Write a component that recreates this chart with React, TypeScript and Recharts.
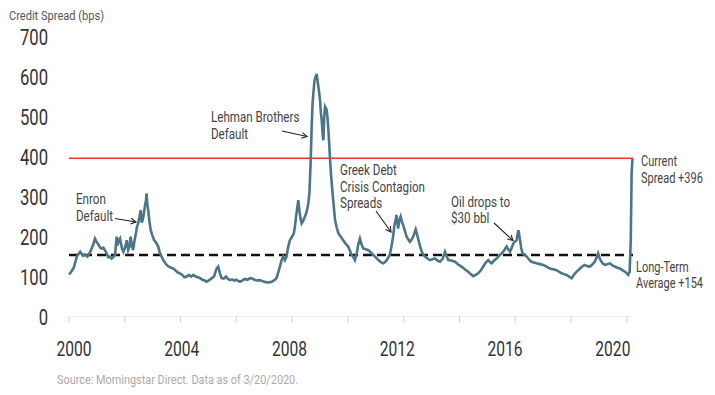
import React from 'react';
import { LineChart, Line, XAxis, YAxis, ReferenceLine } from 'recharts';

const years = [
  2000.00, 2000.08, 2000.17, 2000.28, 2000.40, 2000.50, 2000.57, 2000.66, 2000.75, 2000.87, 2000.93,
  2001.00, 2001.05, 2001.12, 2001.17, 2001.23, 2001.29, 2001.35, 2001.41, 2001.47, 2001.53, 2001.60,
  2001.65, 2001.71, 2001.74, 2001.77, 2001.83, 2001.90, 2001.95, 2002.02, 2002.07, 2002.12, 2002.17,
  2002.21, 2002.26, 2002.30, 2002.35, 2002.40, 2002.44, 2002.48, 2002.53, 2002.57, 2002.61, 2002.64,
  2002.68, 2002.72, 2002.76, 2002.78, 2002.81, 2002.84, 2002.88, 2002.93, 2002.98, 2003.05, 2003.12,
  2003.20, 2003.26, 2003.32, 2003.38, 2003.44, 2003.50, 2003.58, 2003.66, 2003.74, 2003.82, 2003.90,
  2003.98, 2004.06, 2004.14, 2004.22, 2004.30, 2004.38, 2004.46, 2004.54, 2004.62, 2004.70, 2004.78,
  2004.86, 2004.93, 2005.00, 2005.05, 2005.12, 2005.20, 2005.29, 2005.35, 2005.41, 2005.47, 2005.55,
  2005.63, 2005.70, 2005.77, 2005.85, 2005.93, 2006.00, 2006.06, 2006.13, 2006.21, 2006.30, 2006.40,
  2006.49, 2006.57, 2006.65, 2006.75, 2006.85, 2006.95, 2007.05, 2007.14, 2007.22, 2007.30, 2007.38,
  2007.44, 2007.50, 2007.56, 2007.62, 2007.68, 2007.74, 2007.80, 2007.86, 2007.92, 2008.00, 2008.06,
  2008.10, 2008.14, 2008.18, 2008.22, 2008.26, 2008.30, 2008.34, 2008.40, 2008.46, 2008.52, 2008.58,
  2008.62, 2008.66, 2008.70, 2008.73, 2008.76, 2008.80, 2008.84, 2008.88, 2008.91, 2008.94, 2008.97,
  2009.00, 2009.03, 2009.06, 2009.10, 2009.12, 2009.15, 2009.18, 2009.22, 2009.24, 2009.27, 2009.30,
  2009.33, 2009.36, 2009.40, 2009.45, 2009.50, 2009.54, 2009.60, 2009.66, 2009.74, 2009.83, 2009.92,
  2010.01, 2010.07, 2010.13, 2010.20, 2010.25, 2010.32, 2010.37, 2010.43, 2010.49, 2010.55, 2010.64,
  2010.73, 2010.82, 2010.91, 2011.00, 2011.09, 2011.18, 2011.27, 2011.33, 2011.39, 2011.45, 2011.50,
  2011.56, 2011.62, 2011.66, 2011.68, 2011.72, 2011.74, 2011.77, 2011.80, 2011.84, 2011.89, 2011.93,
  2011.98, 2012.04, 2012.10, 2012.16, 2012.22, 2012.28, 2012.34, 2012.39, 2012.43, 2012.48, 2012.53,
  2012.59, 2012.65, 2012.70, 2012.76, 2012.85, 2012.94, 2013.03, 2013.12, 2013.21, 2013.30, 2013.40,
  2013.48, 2013.54, 2013.60, 2013.70, 2013.84, 2013.95, 2014.07, 2014.19, 2014.31, 2014.40, 2014.49,
  2014.58, 2014.67, 2014.76, 2014.85, 2014.94, 2015.03, 2015.09, 2015.15, 2015.24, 2015.33, 2015.42,
  2015.51, 2015.60, 2015.69, 2015.75, 2015.81, 2015.87, 2015.93, 2016.00, 2016.05, 2016.08, 2016.11,
  2016.14, 2016.17, 2016.21, 2016.26, 2016.33, 2016.41, 2016.50, 2016.58, 2016.67, 2016.76, 2016.88,
  2017.00, 2017.12, 2017.24, 2017.36, 2017.48, 2017.57, 2017.66, 2017.75, 2017.84, 2017.93, 2018.02,
  2018.08, 2018.14, 2018.23, 2018.32, 2018.40, 2018.49, 2018.58, 2018.67, 2018.76, 2018.85, 2018.92,
  2018.97, 2019.03, 2019.09, 2019.15, 2019.21, 2019.30, 2019.39, 2019.48, 2019.57, 2019.66, 2019.75,
  2019.84, 2019.93, 2020.00, 2020.05, 2020.10, 2020.14, 2020.17, 2020.20,
];

const spreads = [
  105, 112, 122, 150, 162, 152, 155, 150, 160, 180, 195,
  185, 181, 172, 170, 172, 166, 158, 148, 150, 145, 150,
  154, 200, 178, 187, 195, 170, 162, 175, 191, 166, 175,
  200, 175, 166, 190, 208, 225, 233, 250, 266, 235, 241,
  255, 275, 290, 308, 280, 266, 240, 216, 205, 191, 185,
  175, 158, 150, 141, 135, 129, 125, 122, 120, 115, 110,
  108, 104, 98, 100, 104, 100, 104, 100, 98, 96, 92,
  90, 87, 90, 92, 96, 100, 120, 125, 108, 96, 95,
  100, 94, 91, 93, 90, 92, 89, 87, 90, 94, 92,
  96, 95, 92, 90, 91, 88, 86, 85, 86, 88, 92,
  96, 110, 125, 140, 150, 141, 150, 175, 191, 200, 208,
  225, 250, 270, 291, 265, 245, 233, 240, 250, 262, 283,
  310, 380, 475, 530, 558, 590, 600, 607, 590, 575, 560,
  541, 510, 491, 450, 441, 500, 525, 520, 516, 495, 466,
  430, 391, 350, 308, 270, 241, 222, 208, 200, 191, 182,
  175, 165, 154, 148, 141, 160, 180, 195, 180, 170, 168,
  166, 160, 154, 148, 141, 136, 133, 136, 141, 148, 154,
  175, 200, 225, 233, 245, 254, 235, 220, 240, 250, 238,
  229, 215, 200, 193, 187, 192, 200, 210, 218, 205, 191,
  175, 162, 155, 150, 145, 141, 143, 145, 140, 137, 145,
  162, 150, 141, 140, 137, 130, 125, 118, 112, 106, 101,
  104, 108, 115, 125, 135, 141, 136, 133, 140, 145, 152,
  158, 165, 175, 168, 162, 172, 183, 188, 191, 205, 216,
  205, 191, 172, 158, 155, 150, 142, 137, 135, 133, 131,
  129, 125, 120, 118, 116, 112, 108, 106, 104, 100, 96,
  102, 108, 114, 120, 125, 129, 126, 125, 130, 137, 148,
  158, 145, 137, 132, 129, 131, 133, 128, 125, 122, 120,
  116, 112, 108, 104, 112, 191, 358, 396,
];

const yTicks = [0, 100, 200, 300, 400, 500, 600, 700];
const xTicks = [2000, 2002, 2004, 2006, 2008, 2010, 2012, 2014, 2016, 2018, 2020];
const xLabels = [2000, 2004, 2008, 2012, 2016, 2020];
const currentSpread = 396;
const longTermAverage = 154;

const data = years.map((y, i) => ({ year: y, spread: spreads[i] }));

const FONT = 'Roboto, sans-serif';

const ST = ({ x, y, text, size, color = '#444', sx = 0.8, anchor = 'start' }: any) => (
  <text
    transform={`translate(${x},${y}) scale(${sx},1)`}
    x={0}
    y={0}
    textAnchor={anchor}
    fontSize={size}
    fill={color}
    fontFamily={FONT}
  >
    {text}
  </text>
);

const XTick = (props: any) => {
  const { x, y, payload } = props;
  const v = payload.value;
  if (!xLabels.includes(v)) return null;
  const dx = 5 - (v - 2000) * 0.95;
  return <ST x={x + dx} y={y + 31.5} text={String(v)} size={20} color="#333" sx={0.78} anchor="middle" />;
};

const YTick = (props: any) => {
  const { x, y, payload } = props;
  return <ST x={x} y={y + 8} text={String(payload.value)} size={22.5} color="#333" sx={0.74} anchor="end" />;
};

const Arrow = ({ x1, y1, x2, y2 }: { x1: number; y1: number; x2: number; y2: number }) => {
  const a = Math.atan2(y2 - y1, x2 - x1);
  const L = 6;
  const s = 0.5;
  const h1x = x2 - L * Math.cos(a - s);
  const h1y = y2 - L * Math.sin(a - s);
  const h2x = x2 - L * Math.cos(a + s);
  const h2y = y2 - L * Math.sin(a + s);
  return (
    <g stroke="#222" strokeWidth={1.1} fill="none">
      <line x1={x1} y1={y1} x2={x2} y2={y2} />
      <polyline points={`${h1x},${h1y} ${x2},${y2} ${h2x},${h2y}`} />
    </g>
  );
};

const T = ({ x, y, lines, size = 14.5, color = '#444', lh = 16.7, sx = 0.8 }: any) => (
  <g>
    {lines.map((l: string, i: number) => (
      <ST key={i} x={x} y={y + i * lh} text={l} size={size} color={color} sx={sx} />
    ))}
  </g>
);

export default function App() {
  return (
    <div style={{ position: 'relative', width: 715, height: 395, margin: '-8px' }}>
      <LineChart
        width={715}
        height={395}
        data={data}
        margin={{ top: 36.7, right: 82, bottom: 48.5, left: 8 }}
      >
        <XAxis
          dataKey="year"
          type="number"
          domain={[2000, 2020.22]}
          ticks={xTicks}
          interval={0}
          height={30}
          tickSize={6}
          tickLine={{ stroke: '#cfcfcf' }}
          axisLine={{ stroke: '#efefef' }}
          tick={<XTick />}
        />
        <YAxis
          type="number"
          domain={[0, 700]}
          ticks={yTicks}
          width={61}
          axisLine={false}
          tickLine={false}
          tickMargin={15}
          tick={<YTick />}
        />
        <ReferenceLine y={currentSpread} stroke="#e8322d" strokeWidth={1.6} />
        <ReferenceLine y={longTermAverage} stroke="#111" strokeWidth={2.5} strokeDasharray="9 5" />
        <Line
          type="linear"
          dataKey="spread"
          stroke="#4c7589"
          strokeWidth={2.6}
          dot={false}
          isAnimationActive={false}
        />
      </LineChart>
      <svg
        width={715}
        height={395}
        style={{ position: 'absolute', left: 0, top: 0, pointerEvents: 'none' }}
      >
        <T x={9} y={20} lines={['Credit Spread (bps)']} size={13.5} color="#555" sx={0.82} />
        <T x={76} y={204.3} lines={['Enron', 'Default']} />
        <Arrow x1={115} y1={218.5} x2={136} y2={222} />
        <T x={211} y={122.3} lines={['Lehman Brothers', 'Default']} />
        <Arrow x1={282} y1={131} x2={307} y2={136.5} />
        <T x={340} y={175} lines={['Greek Debt', 'Crisis Contagion', 'Spreads']} />
        <Arrow x1={376} y1={211} x2={391} y2={232} />
        <T x={451} y={206.7} lines={['Oil drops to', '$30 bbl']} />
        <Arrow x1={494} y1={223} x2={513} y2={240.5} />
        <T x={641} y={166} lines={['Current', 'Spread +396']} sx={0.76} />
        <T x={636} y={271.7} lines={['Long-Term', 'Average +154']} sx={0.76} />
        <T x={57} y={383.5} lines={['Source: Morningstar Direct. Data as of 3/20/2020.']} size={12.8} color="#aaa" sx={0.85} />
      </svg>
    </div>
  );
}
